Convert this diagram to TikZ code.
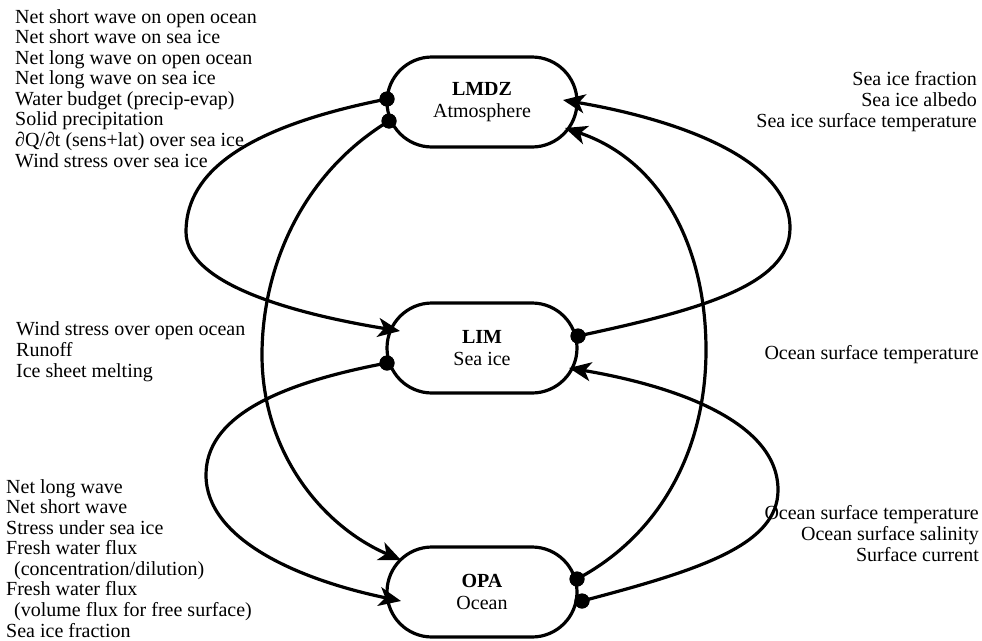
\documentclass[tikz,border=0pt]{standalone}
\usepackage{fontspec}
\setmainfont{Liberation Serif}
\usetikzlibrary{arrows.meta,calc}
\begin{document}
\begin{tikzpicture}[x=1pt,y=-1pt,
  model/.style={draw, fill=white, line width=3.2pt, rounded corners=45pt, minimum width=190pt, minimum height=90pt, inner sep=0pt, align=center, font=\fontsize{20}{21.5}\selectfont},
  link/.style={line width=3.2pt, -{Stealth[length=22pt,width=19pt,inset=6pt]}},
  dotn/.style={circle, fill=black, inner sep=0pt, minimum size=15pt},
  lbl/.style={inner sep=0pt, font=\fontsize{20}{20.55}\selectfont},
]
\useasboundingbox (0,0) rectangle (982,640);

% boxes
\node[model] (lmdz) at (482,102) {\textbf{LMDZ}\\Atmosphere};
\node[model] (lim) at (482,348) {\textbf{LIM}\\Sea ice};
\node[model] (opa) at (482,592) {\textbf{OPA}\\Ocean};

% dots (sources)
\node[dotn] (dA) at (387,99) {};
\node[dotn] (dB) at (389,121) {};
\node[dotn] (dC) at (387,363) {};
\node[dotn] (dD) at (578,336) {};
\node[dotn] (dE) at (577,579) {};
\node[dotn] (dF) at (582,601) {};

% arrow ends (targets)
\coordinate (tA) at (400,331);
\coordinate (tB) at (401,560);
\coordinate (tC) at (401,601);
\coordinate (tD) at (563,100);
\coordinate (tE) at (565,128);
\coordinate (tF) at (569,368);

% connectors
\draw[link] (dA.center) .. controls (230,130) and (186,180) .. (186,232)
   .. controls (186,290) and (320,318) .. (tA);
\draw[link] (dB.center) .. controls (300,175) and (262,270) .. (262,355)
   .. controls (262,450) and (320,525) .. (tB);
\draw[link] (dC.center) .. controls (270,385) and (206,420) .. (206,475)
   .. controls (206,540) and (300,580) .. (tC);
\draw[link] (dD.center) .. controls (700,310) and (790,285) .. (790,228)
   .. controls (790,160) and (680,120) .. (tD);
\draw[link] (dE.center) .. controls (660,535) and (706,450) .. (706,350)
   .. controls (706,245) and (660,160) .. (tE);
\draw[link] (dF.center) .. controls (700,570) and (778,545) .. (778,490)
   .. controls (778,420) and (670,385) .. (tF);

% redraw dots on top
\foreach \d in {dA,dB,dC,dD,dE,dF} \fill (\d) circle (7.5pt);

% labels (base anchor = baseline of the last line)
\node[lbl, anchor=base west, align=left] (lab1) at (15,167) {Net short wave on open ocean\\Net short wave on sea ice\\Net long wave on open ocean\\Net long wave on sea ice\\Water budget (precip-evap)\\Solid precipitation\\∂Q/∂t (sens+lat) over sea ice\\Wind stress over sea ice};
\node[lbl, anchor=base east, align=right] (lab2) at (977,127) {Sea ice fraction\\Sea ice albedo\\Sea ice surface temperature};
\node[lbl, anchor=base west, align=left] (lab3) at (16,377) {Wind stress over open ocean\\Runoff\\Ice sheet melting};
\node[lbl, anchor=base east, align=right] (lab4) at (979,359) {Ocean surface temperature};
\node[lbl, anchor=base west, align=left] (lab5) at (6,637) {Net long wave\\Net short wave\\Stress under sea ice\\Fresh water flux\\\hspace*{8pt}(concentration/dilution)\\Fresh water flux\\\hspace*{8pt}(volume flux for free surface)\\Sea ice fraction};
\node[lbl, anchor=base east, align=right] (lab6) at (979,561) {Ocean surface temperature\\Ocean surface salinity\\Surface current};
\end{tikzpicture}
\end{document}
